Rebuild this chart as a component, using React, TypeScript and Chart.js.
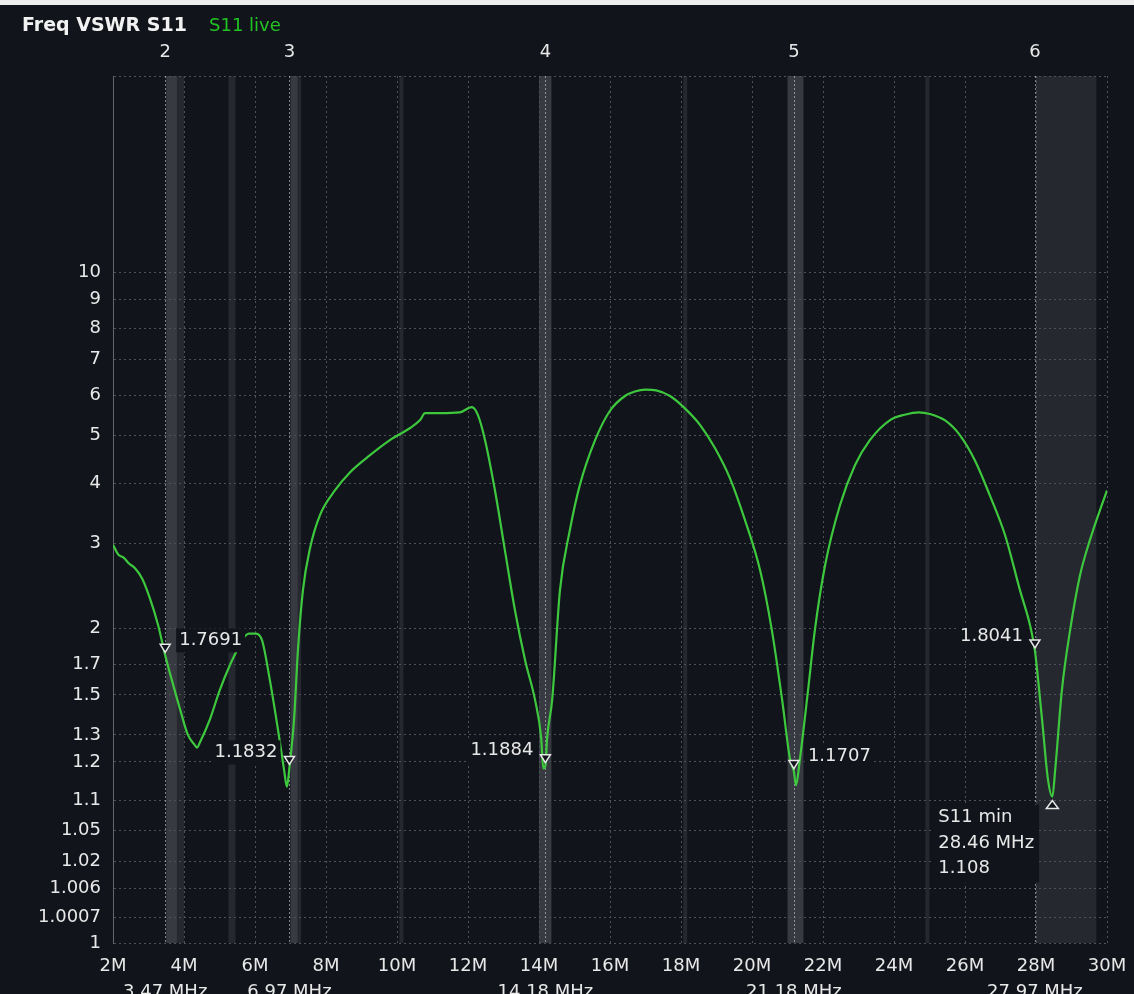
import React, { useEffect, useRef } from 'react';
import { Chart, registerables, LinearScale } from 'chart.js';

// ---------------- data ----------------
const FREQ_MHZ = [
  2.0, 2.15, 2.3, 2.45, 2.62, 2.82, 3.04, 3.27, 3.47, 3.66, 3.89, 4.11, 4.3, 4.37, 4.45,
  4.73, 5.01, 5.3, 5.46, 5.65, 5.83, 6.03, 6.2, 6.42, 6.65, 6.82, 6.9, 6.97, 7.1, 7.21,
  7.35, 7.55, 7.83, 8.25, 8.68, 9.24, 9.8, 10.37, 10.65, 10.79, 11.21, 11.77, 12.11, 12.28,
  12.48, 12.76, 13.04, 13.32, 13.61, 13.89, 14.06, 14.12, 14.18, 14.23, 14.37, 14.59, 14.87,
  15.15, 15.58, 16.0, 16.42, 16.7, 17.0, 17.3, 17.69, 18.11, 18.54, 18.96, 19.38, 19.8, 20.23,
  20.56, 20.85, 21.07, 21.18, 21.24, 21.35, 21.58, 21.77, 22.06, 22.48, 22.9, 23.32, 23.89,
  24.3, 24.7, 25.01, 25.44, 25.86, 26.28, 26.7, 27.13, 27.55, 27.83, 27.97, 28.17, 28.34, 28.46,
  28.54, 28.73, 28.96, 29.24, 29.52, 29.8, 30.0,
];
const VSWR = [
  2.98, 2.84, 2.8, 2.72, 2.66, 2.53, 2.3, 2.03, 1.7691, 1.59, 1.42, 1.3, 1.26, 1.25, 1.27,
  1.37, 1.53, 1.7, 1.79, 1.9, 1.95, 1.95, 1.89, 1.59, 1.32, 1.175, 1.13, 1.1832, 1.37, 1.81,
  2.39, 2.93, 3.44, 3.87, 4.22, 4.57, 4.9, 5.18, 5.37, 5.54, 5.54, 5.56, 5.69, 5.49,
  4.9, 3.87, 2.9, 2.18, 1.73, 1.47, 1.29, 1.18, 1.1884, 1.29, 1.47, 2.39, 3.2,
  3.97, 4.9, 5.6, 5.98, 6.1, 6.15, 6.13, 5.98, 5.66, 5.25, 4.72, 4.1, 3.36, 2.63,
  1.98, 1.47, 1.21, 1.1707, 1.134, 1.21, 1.53, 1.98, 2.7, 3.61, 4.36, 4.9, 5.37,
  5.5, 5.56, 5.52, 5.36, 5.01, 4.46, 3.78, 3.12, 2.39, 2.03, 1.8041, 1.37, 1.147, 1.108,
  1.175, 1.53, 1.98, 2.57, 3.05, 3.52, 3.87,
];

const Y_TICKS = [1, 1.0007, 1.006, 1.02, 1.05, 1.1, 1.2, 1.3, 1.5, 1.7, 2, 3, 4, 5, 6, 7, 8, 9, 10];
const Y_MIN = 1;
const Y_MAX = 20;
const X_MIN = 2;
const X_MAX = 30;
const X_STEP = 2;

const MARKER_IDS = ['2', '3', '4', '5', '6'];
const MARKER_FREQ = [3.47, 6.97, 14.18, 21.18, 27.97];
const MARKER_VSWR = [1.7691, 1.1832, 1.1884, 1.1707, 1.8041];
const MARKER_FREQ_TEXT = ['3.47 MHz', '6.97 MHz', '14.18 MHz', '21.18 MHz', '27.97 MHz'];
const MARKER_LABEL_SIDE = ['right', 'left', 'left', 'right', 'left'];

const MIN_FREQ = 28.46;
const MIN_VSWR = 1.108;
const MIN_LINES = ['S11 min', '28.46 MHz', '1.108'];

const BAND_LO = [3.5, 3.5, 5.25, 7.0, 7.0, 10.1, 14.0, 14.0, 18.068, 21.0, 21.0, 24.89, 28.0];
const BAND_HI = [3.8, 4.0, 5.45, 7.2, 7.3, 10.15, 14.35, 14.35, 18.168, 21.45, 21.45, 24.99, 29.7];

// ---------------- styles ----------------
const BG = '#11141b';
const TEXT = '#e8e8e8';
const GREEN = '#3ec83e';
const FONT = '"DejaVu Sans", sans-serif';

// VSWR axis: position proportional to (VSWR-1)^p
const VSWR_EXP = 0.344;
const toU = (v: number) => Math.pow(Math.max(v - 1, 0), VSWR_EXP);
const fromU = (u: number) => 1 + Math.pow(Math.max(u, 0), 1 / VSWR_EXP);

class VswrScale extends LinearScale {
  static id = 'vswr';
  static defaults = {};
  determineDataLimits() {
    this.min = toU(Y_MIN);
    this.max = toU(Y_MAX);
  }
  buildTicks() {
    return [...Y_TICKS, Y_MAX].map((v) => ({ value: v }));
  }
  getPixelForValue(v: number) {
    return super.getPixelForValue(toU(v));
  }
  getValueForPixel(p: number) {
    return fromU(super.getValueForPixel(p));
  }
}

Chart.register(...registerables, VswrScale);

const decor = {
  id: 'decor',
  beforeDraw(chart: any) {
    const { ctx, chartArea: a, scales } = chart;
    const x = scales.x;
    ctx.save();
    ctx.fillStyle = '#eeeeee';
    ctx.fillRect(0, 0, chart.width, 5);
    ctx.fillStyle = BG;
    ctx.fillRect(0, 5, chart.width, chart.height - 5);
    ctx.fillStyle = 'rgba(255,255,255,0.085)';
    BAND_LO.forEach((lo, i) => {
      let x1 = x.getPixelForValue(lo);
      let x2 = x.getPixelForValue(BAND_HI[i]);
      if (x2 - x1 < 4) {
        const c = (x1 + x2) / 2;
        x1 = c - 2;
        x2 = c + 2;
      }
      ctx.fillRect(x1, a.top, x2 - x1, a.bottom - a.top);
    });
    ctx.restore();
  },
  beforeDatasetsDraw(chart: any) {
    const { ctx, chartArea: a, scales } = chart;
    const x = scales.x;
    ctx.save();
    ctx.strokeStyle = 'rgba(200,202,210,0.6)';
    ctx.lineWidth = 1;
    ctx.setLineDash([2, 2]);
    MARKER_FREQ.forEach((f) => {
      const px = Math.round(x.getPixelForValue(f)) + 0.5;
      ctx.beginPath();
      ctx.moveTo(px, a.top);
      ctx.lineTo(px, a.bottom);
      ctx.stroke();
    });
    ctx.restore();
  },
  afterDatasetsDraw(chart: any) {
    const { ctx, scales } = chart;
    const x = scales.x;
    const y = scales.y;
    ctx.save();
    ctx.font = `18px ${FONT}`;
    ctx.textBaseline = 'middle';
    MARKER_FREQ.forEach((f, i) => {
      const px = x.getPixelForValue(f);
      const py = y.getPixelForValue(MARKER_VSWR[i]);
      const label = MARKER_VSWR[i].toFixed(4);
      const w = ctx.measureText(label).width;
      const right = MARKER_LABEL_SIDE[i] === 'right';
      const tx = right ? px + 14 : px - 12 - w;
      const ty = py - 15;
      ctx.fillStyle = BG;
      ctx.fillRect(tx - 3, ty - 12, w + 6, 24);
      ctx.fillStyle = TEXT;
      ctx.textAlign = 'left';
      ctx.fillText(label, tx, ty);
      // down triangle
      ctx.beginPath();
      ctx.moveTo(px - 5, py - 11);
      ctx.lineTo(px + 5, py - 11);
      ctx.lineTo(px, py - 3);
      ctx.closePath();
      ctx.fillStyle = BG;
      ctx.fill();
      ctx.strokeStyle = TEXT;
      ctx.lineWidth = 1.5;
      ctx.stroke();
    });
    // S11 min marker
    const mx = x.getPixelForValue(MIN_FREQ);
    const my = y.getPixelForValue(MIN_VSWR);
    ctx.beginPath();
    ctx.moveTo(mx, my + 4);
    ctx.lineTo(mx + 6, my + 12);
    ctx.lineTo(mx - 6, my + 12);
    ctx.closePath();
    ctx.fillStyle = BG;
    ctx.fill();
    ctx.strokeStyle = TEXT;
    ctx.lineWidth = 1.5;
    ctx.stroke();
    const lx = mx - 114;
    const widths = MIN_LINES.map((s) => ctx.measureText(s).width);
    const bw = Math.max(...widths);
    ctx.fillStyle = BG;
    ctx.fillRect(lx - 5, my + 8, bw + 10, 78);
    ctx.fillStyle = TEXT;
    ctx.textAlign = 'left';
    MIN_LINES.forEach((s, i) => ctx.fillText(s, lx, my + 21 + i * 25.5));
    ctx.restore();
  },
  afterDraw(chart: any) {
    const { ctx, scales } = chart;
    const x = scales.x;
    ctx.save();
    ctx.textBaseline = 'middle';
    ctx.textAlign = 'left';
    ctx.font = `bold 19px ${FONT}`;
    ctx.fillStyle = '#f2f2f2';
    ctx.fillText('Freq VSWR S11', 22, 26);
    ctx.font = `18px ${FONT}`;
    ctx.fillStyle = '#22c422';
    ctx.fillText('S11 live', 209, 26);
    ctx.fillStyle = TEXT;
    ctx.textAlign = 'center';
    MARKER_FREQ.forEach((f, i) => {
      const px = x.getPixelForValue(f);
      ctx.textBaseline = 'middle';
      ctx.fillText(MARKER_IDS[i], px, 52);
      ctx.textBaseline = 'top';
      ctx.fillText(MARKER_FREQ_TEXT[i], px, 983);
    });
    ctx.restore();
  },
};

export default function App() {
  const ref = useRef<HTMLCanvasElement>(null);
  useEffect(() => {
    document.body.style.margin = '0';
    const chart = new Chart(ref.current as HTMLCanvasElement, {
      type: 'line',
      data: {
        datasets: [
          {
            label: 'S11',
            data: FREQ_MHZ.map((f, i) => ({ x: f, y: VSWR[i] })),
            borderColor: GREEN,
            borderWidth: 2.2,
            pointRadius: 0,
            cubicInterpolationMode: 'monotone',
            fill: false,
          },
        ],
      },
      options: {
        animation: false,
        responsive: false,
        devicePixelRatio: 1,
        layout: { padding: { top: 76, right: 27, bottom: 0, left: 0 } },
        plugins: { legend: { display: false }, tooltip: { enabled: false } },
        events: [],
        scales: {
          x: {
            type: 'linear',
            min: X_MIN,
            max: X_MAX,
            afterFit: (s: any) => {
              s.height = 51;
              s.paddingLeft = 0;
              s.paddingRight = 0;
            },
            ticks: {
              stepSize: X_STEP,
              autoSkip: false,
              maxRotation: 0,
              padding: 13,
              color: TEXT,
              font: { family: FONT, size: 18 },
              callback: (v: any) => `${v}M`,
            },
            grid: { color: '#4d515a', lineWidth: 1, drawTicks: false },
            border: { display: false, dash: [2, 3] },
          },
          y: {
            type: 'vswr',
            afterFit: (s: any) => {
              s.width = 113;
              s.paddingTop = 0;
              s.paddingBottom = 0;
            },
            ticks: {
              autoSkip: false,
              padding: 12,
              color: TEXT,
              font: { family: FONT, size: 18 },
              callback: (v: any, i: number) => (i < Y_TICKS.length ? String(Y_TICKS[i]) : ''),
            },
            grid: { color: '#4d515a', lineWidth: 1, drawTicks: false },
            border: { display: true, color: '#62666e', width: 1, dash: [2, 3] },
          },
        } as any,
      },
      plugins: [decor],
    } as any);
    return () => chart.destroy();
  }, []);
  return (
    <div style={{ position: 'fixed', left: 0, top: 0, width: 1134, height: 994, background: BG }}>
      <canvas ref={ref} width={1134} height={994} style={{ display: 'block', width: 1134, height: 994 }} />
    </div>
  );
}
